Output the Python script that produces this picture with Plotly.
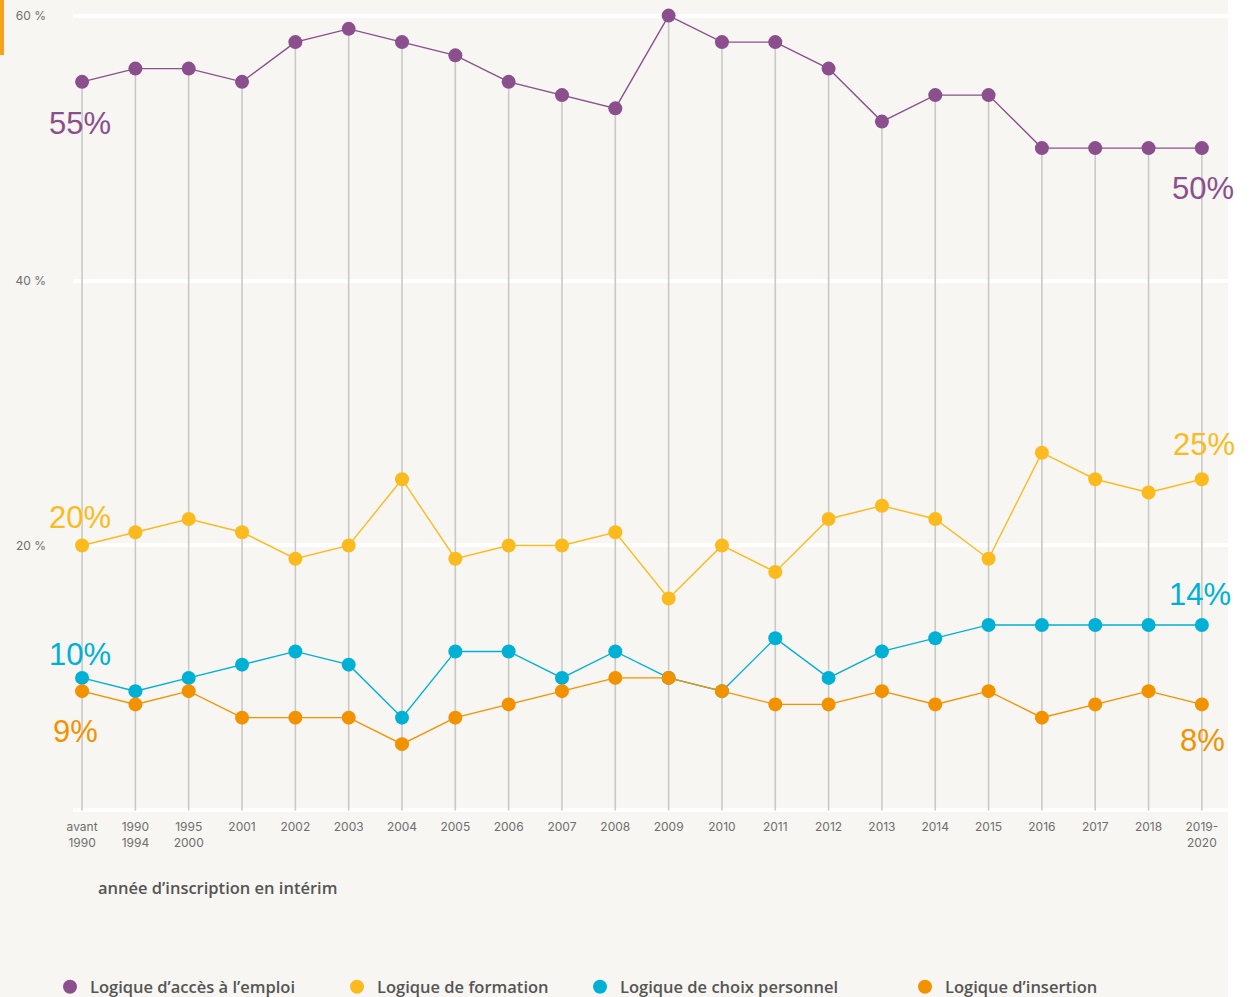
import plotly.graph_objects as go

categories = ["avant<br>1990", "1990<br>1994", "1995<br>2000", "2001", "2002", "2003", "2004",
              "2005", "2006", "2007", "2008", "2009", "2010", "2011", "2012", "2013", "2014",
              "2015", "2016", "2017", "2018", "2019-<br>2020"]

emploi = [55, 56, 56, 55, 58, 59, 58, 57, 55, 54, 53, 60, 58, 58, 56, 52, 54, 54, 50, 50, 50, 50]
formation = [20, 21, 22, 21, 19, 20, 25, 19, 20, 20, 21, 16, 20, 18, 22, 23, 22, 19, 27, 25, 24, 25]
choix = [10, 9, 10, 11, 12, 11, 7, 12, 12, 10, 12, 10, 9, 13, 10, 12, 13, 14, 14, 14, 14, 14]
insertion = [9, 8, 9, 7, 7, 7, 5, 7, 8, 9, 10, 10, 9, 8, 8, 9, 8, 9, 7, 8, 9, 8]

series_names = ["Logique d’accès à l’emploi", "Logique de formation",
                "Logique de choix personnel", "Logique d’insertion"]
series_values = [emploi, formation, choix, insertion]
colors = ["#8b4f8d", "#fbbb1f", "#00b1d5", "#f39200"]

y_tickvals = [0, 20, 40, 60]
y_ticktext = ["", "20 %", "40 %", "60 %"]
x_title = "année d’inscription en intérim"

BG = "#f7f6f2"
W, H = 1250, 997
L, R, T, B = 73, 22, 9, 180
pw = W - L - R
ph = H - T - B

def px_x(p):
    return (p - L) / pw

def px_y(p):
    return (H - B - p) / ph

fig = go.Figure()

# drop lines (gray) from the top series down to 0
fig.add_trace(go.Scatter(
    x=categories, y=emploi, mode="markers",
    marker=dict(size=1, opacity=0),
    error_y=dict(type="data", symmetric=False, array=[0] * len(emploi), arrayminus=emploi,
                 width=0, thickness=1.6, color="#c9c9c7"),
    showlegend=False, hoverinfo="skip", cliponaxis=False,
))

for name, vals, col in zip(series_names, series_values, colors):
    fig.add_trace(go.Scatter(
        x=categories, y=vals, mode="lines+markers", name=name,
        line=dict(color=col, width=1.4),
        marker=dict(color=col, size=14),
        cliponaxis=False, showlegend=False,
    ))

# legend entries (marker only)
legend_keys = ["legend", "legend2", "legend3", "legend4"]
for name, col, lg in zip(series_names, colors, legend_keys):
    fig.add_trace(go.Scatter(
        x=[categories[0]], y=[None], mode="markers", name=name,
        marker=dict(color=col, size=14), legend=lg, hoverinfo="skip",
    ))

# end labels
label_font = dict(family="Liberation Sans", size=31)
left_shifts = [(-42, -2), (28, -2), (23, -2), (-40, -7)]
right_shifts = [(-40, 1), (35, 2), (30, -2), (-36, 1)]
for vals, col, ls, rs in zip(series_values, colors, left_shifts, right_shifts):
    fig.add_annotation(x=categories[0], y=vals[0], text=f"{vals[0]}%", showarrow=False,
                       font=dict(color=col, **label_font), yshift=ls[0], xshift=ls[1])
    fig.add_annotation(x=categories[-1], y=vals[-1], text=f"{vals[-1]}%", showarrow=False,
                       font=dict(color=col, **label_font), yshift=rs[0], xshift=rs[1])

text_font = dict(family="Open Sans", size=16.5, color="#555555", weight=600)
fig.add_annotation(xref="paper", yref="paper", x=px_x(96), y=px_y(887), xanchor="left",
                   yanchor="middle", text=x_title, showarrow=False, font=text_font)

# white strip at right and orange accent at top-left
fig.add_shape(type="rect", xref="paper", yref="paper", x0=1.0, x1=1.1, y0=-0.5, y1=1.1,
              fillcolor="white", line_width=0, layer="below")
fig.add_shape(type="rect", xref="paper", yref="paper", x0=px_x(0), x1=px_x(4),
              y0=px_y(55), y1=px_y(0), fillcolor="#f5a31a", line_width=0, layer="below")

legend_pos = [70, 357, 600, 925]
legend_common = dict(orientation="h", yref="paper", y=px_y(987), yanchor="middle",
                     xanchor="left", bgcolor="rgba(0,0,0,0)", font=text_font)

fig.update_layout(
    width=W, height=H,
    margin=dict(l=L, r=R, t=T, b=B, autoexpand=False),
    paper_bgcolor=BG, plot_bgcolor=BG,
    xaxis=dict(type="category", range=[-0.17, 21.49], showgrid=False, zeroline=False,
               showline=False, ticks="", tickfont=dict(family="Inter", size=12, color="#6e6e6e"),
               ticklabelstandoff=1),
    yaxis=dict(range=[-0.5, 60.5], tickvals=y_tickvals, ticktext=y_ticktext,
               showgrid=True, gridcolor="white", gridwidth=3.5, zeroline=False,
               showline=False, ticks="", ticklabelstandoff=26,
               tickfont=dict(family="Inter", size=12, color="#6e6e6e")),
    legend=dict(x=px_x(legend_pos[0] - 20), **legend_common),
    legend2=dict(x=px_x(legend_pos[1] - 20), **legend_common),
    legend3=dict(x=px_x(legend_pos[2] - 20), **legend_common),
    legend4=dict(x=px_x(legend_pos[3] - 20), **legend_common),
)

fig.write_html("out.html", config={"displayModeBar": False},
               post_script="document.body.style.margin='0';document.body.style.overflow='hidden';")
